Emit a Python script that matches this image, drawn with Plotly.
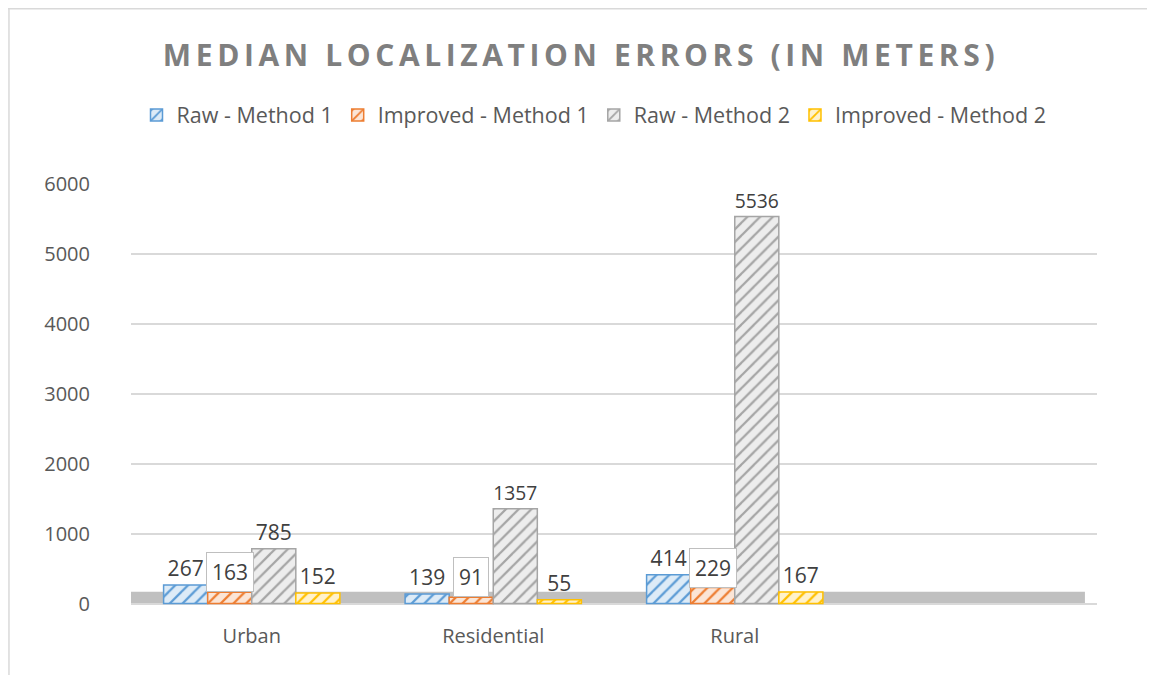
import plotly.graph_objects as go

categories = ["Urban", "Residential", "Rural"]
series_names = ["Raw - Method 1", "Improved - Method 1", "Raw - Method 2", "Improved - Method 2"]
raw_m1 = [267, 139, 414]
improved_m1 = [163, 91, 229]
raw_m2 = [785, 1357, 5536]
improved_m2 = [152, 55, 167]
y_ticks = [0, 1000, 2000, 3000, 4000, 5000, 6000]

series_values = [raw_m1, improved_m1, raw_m2, improved_m2]
colors = ["#5B9BD5", "#ED7D31", "#A5A5A5", "#FFC000"]
light = ["#DDEBF7", "#FBE5D6", "#EDEDED", "#FFF2CC"]
boxed = [False, True, False, False]

FONT = "Open Sans"
TXT = "#404040"
x_pos = list(range(len(categories)))
bargap = 0.27
n = len(series_names)
bw = (1 - bargap) / n

# page has an 8px offset; figure is sized/positioned to compensate
W, H = 1147, 667
L, R, T, B = 123, 58, 176, 63
PH = H - T - B
PW = W - L - R

fig = go.Figure()
for i, (name, vals) in enumerate(zip(series_names, series_values)):
    fig.add_trace(go.Bar(
        x=x_pos, y=vals, name=name,
        marker=dict(color=colors[i],
                    line=dict(color=colors[i], width=1.5),
                    pattern=dict(shape="/", fgcolor=colors[i], bgcolor=light[i],
                                 size=9, solidity=0.25, fillmode="replace")),
        text=None if boxed[i] else [str(v) for v in vals],
        textposition="outside",
        textfont=dict(size=21, color=TXT, family=FONT),
        cliponaxis=False,
    ))
    if boxed[i]:
        for xc, v in zip(x_pos, vals):
            fig.add_annotation(
                x=xc + (i - (n - 1) / 2) * bw, y=v, xref="x", yref="y",
                text=str(v), showarrow=False, yanchor="bottom",
                font=dict(size=21, color=TXT, family=FONT),
                bgcolor="white", bordercolor="#BFBFBF", borderwidth=1, borderpad=5,
            )

# floor band
fig.add_shape(type="rect", xref="x", yref="y", x0=-0.5, x1=3.45, y0=-20, y1=170,
              fillcolor="#C0C0C0", line=dict(width=0), layer="below")
# chart border (top and left)
top_y = (H - B) / PH
left_x = -L / PW
fig.add_shape(type="line", xref="paper", yref="paper",
              x0=left_x, x1=1.1, y0=top_y - 0.002, y1=top_y - 0.002,
              line=dict(color="#D9D9D9", width=1.5))
fig.add_shape(type="line", xref="paper", yref="paper",
              x0=left_x + 0.001, x1=left_x + 0.001, y0=-0.2, y1=top_y,
              line=dict(color="#D9D9D9", width=1.5))

title_text = "MEDIAN LOCALIZATION ERRORS (IN METERS)"
fig.update_layout(
    width=W, height=H,
    margin=dict(l=L, r=R, t=T, b=B),
    paper_bgcolor="white", plot_bgcolor="white",
    barmode="group", bargap=bargap, bargroupgap=0,
    title=dict(text='<span style="letter-spacing:4.6px"><b>' + title_text + '</b></span>',
               x=573 / W, xanchor="center", y=1 - 47 / H, yanchor="middle",
               font=dict(size=30, color="#7F7F7F", family=FONT)),
    legend=dict(orientation="h", x=(586 - L) / PW, xanchor="center",
                y=(H - B - 107) / PH, yanchor="middle",
                font=dict(size=21.5, color="#595959", family=FONT),
                itemwidth=30, traceorder="normal"),
    font=dict(family=FONT, color="#595959"),
    showlegend=True,
)
fig.update_xaxes(range=[-0.5, 3.5], tickvals=x_pos, ticktext=categories,
                 showgrid=False, zeroline=False, showline=False, ticks="",
                 ticklabelstandoff=10,
                 tickfont=dict(size=20, color="#595959", family=FONT))
fig.update_yaxes(range=[-120, 6000], tickvals=y_ticks, showgrid=True,
                 gridcolor="#D9D9D9", gridwidth=1.5, zeroline=False, showline=False,
                 ticks="", ticklen=0, ticklabelstandoff=40,
                 tickfont=dict(size=20, color="#595959", family=FONT))

fig.write_html("out.html")
